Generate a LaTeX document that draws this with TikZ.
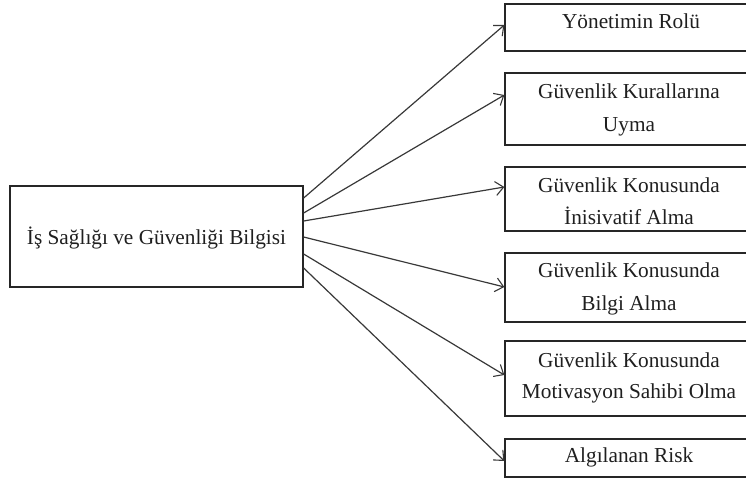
\documentclass[tikz,border=0pt]{standalone}
\usepackage{fontspec}
\setmainfont{Liberation Serif}
\usetikzlibrary{arrows.meta}
\begin{document}
\begin{tikzpicture}[x=1pt,y=-1pt,
  box/.style={draw=black!85,line width=1.3pt,rectangle,inner sep=0pt},
  txt/.style={anchor=base,inner sep=0pt,text=black!88,font=\fontsize{21.3}{26}\selectfont},
  arr/.style={draw=black!78,line width=1.2pt,-{Straight Barb[length=8pt,width=14pt,line width=1.1pt]}}]
\useasboundingbox (0,0) rectangle (746,479);
% source box
\node[box,minimum width=293pt,minimum height=101pt] (L) at (156.5,236.5) {};
\node[txt] (Lt) at (156.5,244) {İş Sağlığı ve Güvenliği Bilgisi};
% target boxes
\node[box,minimum width=248pt,minimum height=47pt] (b1) at (629,27.5) {};
\node[box,minimum width=248pt,minimum height=72pt] (b2) at (629,109) {};
\node[box,minimum width=248pt,minimum height=64pt] (b3) at (629,199) {};
\node[box,minimum width=248pt,minimum height=69pt] (b4) at (629,287.5) {};
\node[box,minimum width=248pt,minimum height=75pt] (b5) at (629,378.5) {};
\node[box,minimum width=248pt,minimum height=38pt] (b6) at (629,458) {};
% texts
\node[txt] (t1) at (631,28) {Yönetimin Rolü};
\node[txt] (t2a) at (629,98) {Güvenlik Kurallarına};
\node[txt] (t2b) at (629,131) {Uyma};
\node[txt] (t3a) at (629,192) {Güvenlik Konusunda};
\node[txt] (t3b) at (629,224) {İnisivatif Alma};
\node[txt] (t4a) at (629,277) {Güvenlik Konusunda};
\node[txt] (t4b) at (629,310) {Bilgi Alma};
\node[txt] (t5a) at (629,367) {Güvenlik Konusunda};
\node[txt] (t5b) at (629,398) {Motivasyon Sahibi Olma};
\node[txt] (t6) at (629,462) {Algılanan Risk};
% connectors
\draw[arr] (L.east |- 0,198) -- (b1.west |- 0,25);
\draw[arr] (L.east |- 0,213) -- (b2.west |- 0,95);
\draw[arr] (L.east |- 0,221) -- (b3.west |- 0,187);
\draw[arr] (L.east |- 0,237) -- (b4.west |- 0,287);
\draw[arr] (L.east |- 0,254) -- (b5.west |- 0,375);
\draw[arr] (L.east |- 0,268) -- (b6.west |- 0,461);
\end{tikzpicture}
\end{document}
